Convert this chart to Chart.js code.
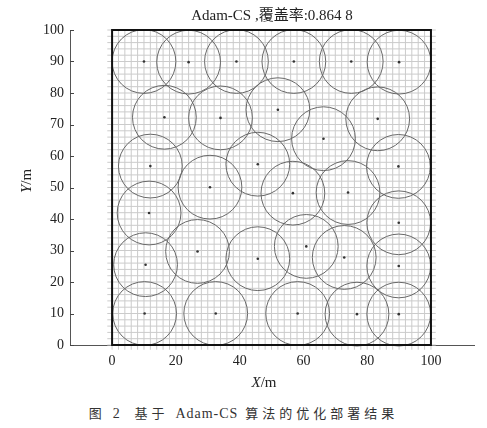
<!DOCTYPE html>
<html><head><meta charset="utf-8">
<script src="https://cdn.jsdelivr.net/npm/chart.js@4/dist/chart.umd.min.js"></script>
<style>
html,body{margin:0;padding:0;background:#fff;}
#wrap{position:absolute;left:0;top:0;width:487px;height:395px;}
#cap{position:absolute;left:0;top:403px;width:487px;text-align:center;font:13px "Noto Sans CJK SC";letter-spacing:4px;color:#333;}
#cap .lat{letter-spacing:1px;font-family:"Liberation Serif","Noto Sans CJK SC";font-size:14px;}
</style></head><body>
<div id="wrap"><canvas id="c" width="487" height="395"></canvas></div>
<div id="cap">图 <span class="lat">2</span>&nbsp; 基于 <span class="lat">Adam-CS</span> 算法的优化部署结果</div>
<script>
// Sensor node centres (m)
const sensorX = [10, 24, 39, 57, 75, 90,
                 16.4, 34, 52, 66.3, 83.3,
                 12, 45.7, 30.7, 89.8,
                 11.6, 56.7, 74, 89.9,
                 26.8, 10.5, 45.7, 60.9, 72.8, 89.9,
                 10.2, 32.5, 58.2, 76.8, 89.9];
const sensorY = [90, 89.8, 90, 90, 90, 89.8,
                 72.3, 72.1, 74.7, 65.5, 71.8,
                 56.8, 57.4, 50.1, 56.7,
                 41.9, 48.2, 48.4, 38.8,
                 29.7, 25.5, 27.4, 31.3, 27.8, 25.1,
                 10, 10, 10, 9.8, 9.8];
const sensingRadius = 10;         // m
const areaSide = 100;             // monitored region 100 m x 100 m
const gridStep = 2;               // m
const xTickLabels = [0, 20, 40, 60, 80, 100];
const yTickLabels = [0, 10, 20, 30, 40, 50, 60, 70, 80, 90, 100];
const chartTitle = 'Adam-CS ,覆盖率:0.864 8';
const xAxisName = ['X', '/m'];
const yAxisName = ['Y', '/m'];

const serif = '"Liberation Serif","Times New Roman","Noto Sans CJK SC",serif';
const points = sensorX.map((x, i) => ({x: x, y: sensorY[i]}));

function radiusPx(ctx) {
  const s = ctx.chart.scales.x;
  return Math.abs(s.getPixelForValue(sensingRadius) - s.getPixelForValue(0));
}

const framePlugin = {
  id: 'frame',
  beforeDatasetsDraw(chart) {
    const c = chart.ctx, xs = chart.scales.x, ys = chart.scales.y;
    const ext = 1.5;
    c.save();
    c.strokeStyle = '#cbcbcb';
    c.lineWidth = 1;
    for (let v = 0; v <= areaSide; v += gridStep) {
      const px = xs.getPixelForValue(v);
      c.beginPath();
      c.moveTo(px, ys.getPixelForValue(-ext));
      c.lineTo(px, Math.max(chart.chartArea.top, ys.getPixelForValue(areaSide)));
      c.stroke();
      const py = ys.getPixelForValue(v);
      c.beginPath();
      c.moveTo(xs.getPixelForValue(-ext), py);
      c.lineTo(xs.getPixelForValue(areaSide + ext), py);
      c.stroke();
    }
    c.restore();
  },
  afterDatasetsDraw(chart) {
    const c = chart.ctx, xs = chart.scales.x, ys = chart.scales.y;
    const l = xs.getPixelForValue(0), r = xs.getPixelForValue(areaSide);
    const t = ys.getPixelForValue(areaSide), b = ys.getPixelForValue(0);
    c.save();
    c.strokeStyle = '#111';
    c.lineWidth = 2;
    c.strokeRect(l, t, r - l, b - t);
    // inward tick marks on the axes
    c.strokeStyle = '#444';
    c.lineWidth = 1;
    const a = chart.chartArea;
    yTickLabels.forEach(v => {
      const py = Math.round(ys.getPixelForValue(v)) + 0.5;
      c.beginPath(); c.moveTo(a.left, py); c.lineTo(a.left + 4, py); c.stroke();
    });
    // axis names
    c.fillStyle = '#222';
    c.textBaseline = 'middle';
    const drawName = (parts, x, y) => {
      c.font = 'italic 15px ' + serif;
      const w1 = c.measureText(parts[0]).width;
      c.font = '15px ' + serif;
      const w2 = c.measureText(parts[1]).width;
      const x0 = x - (w1 + w2) / 2;
      c.textAlign = 'left';
      c.font = 'italic 15px ' + serif;
      c.fillText(parts[0], x0, y);
      c.font = '15px ' + serif;
      c.fillText(parts[1], x0 + w1, y);
    };
    drawName(xAxisName, 264, 383);
    c.save();
    c.translate(27, 181);
    c.rotate(-Math.PI / 2);
    drawName(yAxisName, 0, 0);
    c.restore();
    c.restore();
  }
};

new Chart(document.getElementById('c'), {
  type: 'scatter',
  data: {
    datasets: [
      {
        data: points,
        pointRadius: radiusPx,
        pointHoverRadius: radiusPx,
        pointBackgroundColor: 'rgba(0,0,0,0)',
        pointBorderColor: '#686868',
        pointBorderWidth: 1,
        clip: false
      },
      {
        data: points,
        pointRadius: 1.3,
        pointBackgroundColor: '#333',
        pointBorderWidth: 0,
        clip: false
      }
    ]
  },
  options: {
    responsive: false,
    devicePixelRatio: 1,
    animation: false,
    layout: {padding: {left: 0, right: 13, top: 0, bottom: 0}},
    plugins: {
      legend: {display: false},
      tooltip: {enabled: false},
      title: {
        display: true,
        text: chartTitle,
        fullSize: false,
        color: '#222',
        font: {family: serif, size: 15, weight: 'normal'},
        padding: {top: 7, bottom: 5}
      }
    },
    scales: {
      x: {
        type: 'linear',
        min: -13.2, max: 113.5,
        afterBuildTicks: s => { s.ticks = xTickLabels.map(v => ({value: v})); },
        afterFit: s => { s.height = 50; },
        grid: {display: false, drawTicks: false},
        border: {display: true, color: '#555', width: 1},
        ticks: {color: '#222', font: {family: serif, size: 14}, padding: 8, maxRotation: 0, autoSkip: false}
      },
      y: {
        type: 'linear',
        min: 0, max: 100,
        afterBuildTicks: s => { s.ticks = yTickLabels.map(v => ({value: v})); },
        afterFit: s => { s.width = 70; },
        grid: {display: false, drawTicks: false},
        border: {display: true, color: '#555', width: 1},
        ticks: {color: '#222', font: {family: serif, size: 14}, padding: 6, autoSkip: false}
      }
    }
  },
  plugins: [framePlugin]
});
</script>
</body></html>
